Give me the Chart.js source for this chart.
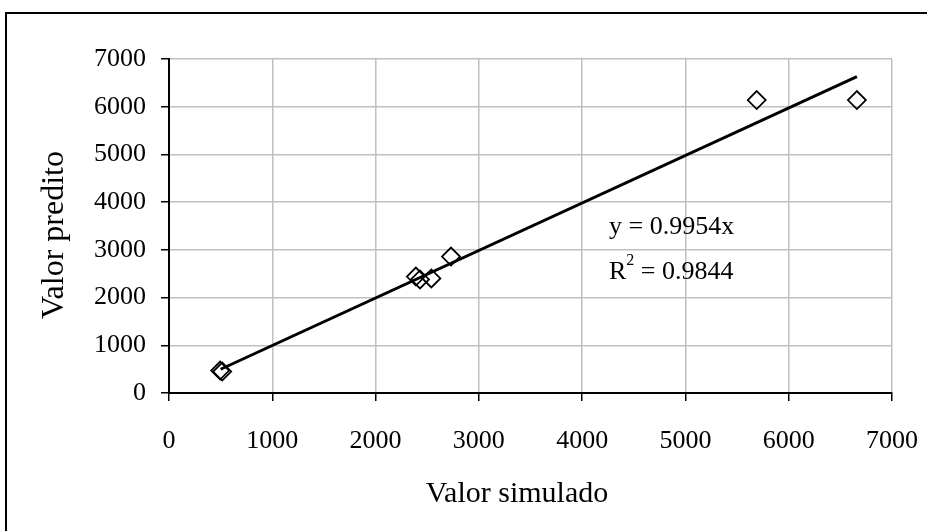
<!DOCTYPE html>
<html>
<head>
<meta charset="utf-8">
<script src="https://cdn.jsdelivr.net/npm/chart.js@4.4.0/dist/chart.umd.min.js"></script>
<style>
  html, body { margin: 0; padding: 0; background: #fff; overflow: hidden; }
  #wrap { position: relative; width: 927px; height: 531px; }
  #frame { position: absolute; left: 5px; top: 12px; width: 1000px; height: 700px;
           border: 2px solid #000; box-sizing: border-box; pointer-events: none; }
</style>
</head>
<body>
<div id="wrap">
  <canvas id="chart" width="927" height="531"></canvas>
  <div id="frame"></div>
</div>
<script>
// points
const simulado = [495, 515, 2390, 2430, 2540, 2730, 5690, 6660];
const predito  = [470, 450, 2440, 2380, 2400, 2860, 6140, 6140];

// linear trendline (through origin), ends
const trendX = [500, 6660];
const trendY = [498, 6629];

const xTicks = [0, 1000, 2000, 3000, 4000, 5000, 6000, 7000];
const yTicks = [0, 1000, 2000, 3000, 4000, 5000, 6000, 7000];

const eqLine = "y = 0.9954x";
const r2Value = " = 0.9844";
const xTitle = "Valor simulado";
const yTitle = "Valor predito";

const serif = '"Liberation Serif", "Times New Roman", serif';

// equation and axis titles
const textPlugin = {
  id: 'texts',
  afterDraw(chart) {
    const { ctx, scales: { x, y } } = chart;
    ctx.save();
    ctx.fillStyle = '#000';
    ctx.textBaseline = 'middle';

    // equation box
    const ex = x.getPixelForValue(4260);
    ctx.font = '26px ' + serif;
    ctx.textAlign = 'left';
    ctx.fillText(eqLine, ex, y.getPixelForValue(3480));
    const ry = y.getPixelForValue(2540);
    ctx.fillText('R', ex, ry);
    let w = ctx.measureText('R').width;
    ctx.font = '16px ' + serif;
    ctx.fillText('2', ex + w, ry - 11);
    w += ctx.measureText('2').width;
    ctx.font = '26px ' + serif;
    ctx.fillText(r2Value, ex + w, ry);

    // axis titles
    ctx.textAlign = 'center';
    ctx.font = '30px ' + serif;
    ctx.fillText(xTitle, 517, 494);
    ctx.translate(55, 235);
    ctx.rotate(-Math.PI / 2);
    ctx.font = '32px ' + serif;
    ctx.fillText(yTitle, 0, 0);
    ctx.restore();
  }
};

const gridColor = (c) => (c.tick && c.tick.value === 0) ? 'rgba(0,0,0,0)' : '#c0c0c0';
const plain = (v) => String(v);

const ctx = document.getElementById('chart').getContext('2d');
const chart = new Chart(ctx, {
  type: 'scatter',
  data: {
    datasets: [
      {
        type: 'line',
        data: trendX.map((v, i) => ({ x: v, y: trendY[i] })),
        borderColor: '#000',
        borderWidth: 3,
        pointRadius: 0,
        fill: false,
        order: 0
      },
      {
        data: simulado.map((v, i) => ({ x: v, y: predito[i] })),
        pointStyle: 'rectRot',
        pointRadius: 9,
        pointHoverRadius: 9,
        pointBackgroundColor: 'rgba(0,0,0,0)',
        pointBorderColor: '#000',
        pointBorderWidth: 1.8,
        order: 1
      }
    ]
  },
  options: {
    responsive: false,
    animation: false,
    layout: { padding: { left: 5, top: 59, right: 35, bottom: 18 } },
    plugins: {
      legend: { display: false },
      tooltip: { enabled: false }
    },
    scales: {
      x: {
        type: 'linear',
        min: 0,
        max: 7000,
        afterBuildTicks: (s) => { s.ticks = xTicks.map(v => ({ value: v })); },
        afterFit: (s) => { s.height = 120; s.paddingLeft = 0; s.paddingRight = 0; },
        grid: { color: gridColor, lineWidth: 1.5, tickColor: '#000', tickLength: 8, tickWidth: 1.5 },
        border: { color: '#000', width: 2 },
        ticks: { color: '#000', font: { family: serif, size: 26 }, padding: 25, maxRotation: 0, callback: plain }
      },
      y: {
        type: 'linear',
        min: 0,
        max: 7000,
        afterBuildTicks: (s) => { s.ticks = yTicks.map(v => ({ value: v })); },
        afterFit: (s) => { s.width = 164; s.paddingTop = 0; s.paddingBottom = 0; },
        grid: { color: gridColor, lineWidth: 1.5, tickColor: '#000', tickLength: 8, tickWidth: 1.5 },
        border: { color: '#000', width: 2 },
        ticks: { color: '#000', font: { family: serif, size: 26 }, padding: 15, callback: plain }
      }
    }
  },
  plugins: [textPlugin]
});
</script>
</body>
</html>
